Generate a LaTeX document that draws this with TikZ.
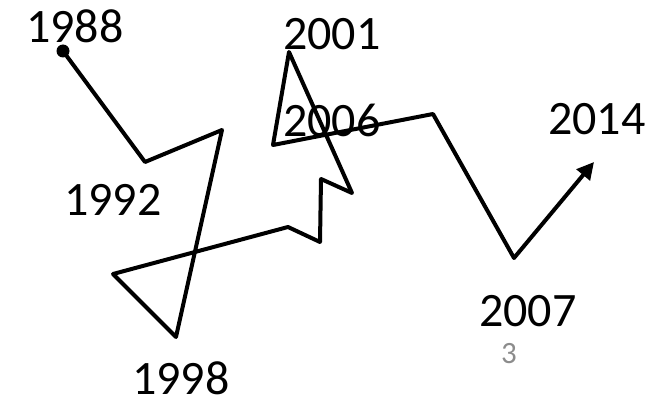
\documentclass[tikz,border=0pt]{standalone}
\usepackage{fontspec}
\setmainfont{Carlito}
\usetikzlibrary{arrows.meta}
\begin{document}
\begin{tikzpicture}[x=1pt,y=-1pt,
  yearlabel/.style={anchor=base west,inner sep=0pt,font=\fontsize{48}{56}\selectfont},
  pagenum/.style={anchor=base west,inner sep=0pt,text=black!45,font=\fontsize{31}{36}\selectfont},
  trail/.style={line width=4pt,line join=round}]
\useasboundingbox (0,0) rectangle (651,401);
\coordinate (p1) at (63,51);
\coordinate (p2) at (145,162);
\coordinate (p3) at (222,130);
\coordinate (p4) at (176,337);
\coordinate (p5) at (113,274);
\coordinate (p6) at (288,227);
\coordinate (p7) at (320,242);
\coordinate (p8) at (321,179);
\coordinate (p9) at (352,193);
\coordinate (p10) at (289,52);
\coordinate (p11) at (273,145);
\coordinate (p12) at (433,114);
\coordinate (p13) at (514,258);
\coordinate (p14) at (594,162);
\fill (p1) circle (6.5pt);
\draw[trail,-{Triangle[length=17pt,width=17pt]}] (p1) -- (p2) -- (p3) -- (p4) -- (p5) -- (p6) -- (p7) -- (p8) -- (p9) -- (p10) -- (p11) -- (p12) -- (p13) -- (p14);
\node[yearlabel] (y1988) at (26,43) {1988};
\node[yearlabel] (y1992) at (64,215) {1992};
\node[yearlabel] (y1998) at (132,394) {1998};
\node[yearlabel] (y2001) at (283,50) {2001};
\node[yearlabel] (y2006) at (283,137) {2006};
\node[yearlabel] (y2007) at (479,326) {2007};
\node[yearlabel] (y2014) at (548,135) {2014};
\node[pagenum] (pg) at (501,363) {3};
\end{tikzpicture}
\end{document}
